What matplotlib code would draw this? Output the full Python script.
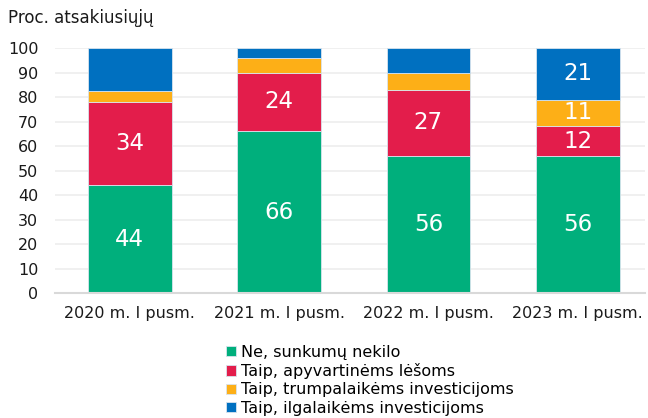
import matplotlib.pyplot as plt
import numpy as np

# --- duomenys ---
kategorijos = ['2020 m. I pusm.', '2021 m. I pusm.', '2022 m. I pusm.', '2023 m. I pusm.']
ne_sunkumu = [44, 66, 56, 56]
apyvartinems = [34, 24, 27, 12]
trumpalaikems = [4.5, 6, 7, 11]
ilgalaikems = [17.5, 4, 10, 21]

pavadinimai = ['Ne, sunkumų nekilo', 'Taip, apyvartinėms lėšoms',
               'Taip, trumpalaikėms investicijoms', 'Taip, ilgalaikėms investicijoms']
spalvos = ['#00AF7C', '#E31D4B', '#FDAF17', '#0070C0']
serijos = [ne_sunkumu, apyvartinems, trumpalaikems, ilgalaikems]
# kurios serijos rodo reikšmes visiems metams
rodyti_visur = [True, True, False, False]
zymes_4 = [False, False, False, True]  # paskutinis metas turi visas reikšmes

fig = plt.figure(figsize=(6.48, 4.18), dpi=100)
ax = fig.add_axes([55 / 648, 0.299, 590 / 648, 0.586])

x = np.arange(len(kategorijos))
apacia = np.zeros(len(kategorijos))
for i, vals in enumerate(serijos):
    vals = np.array(vals, dtype=float)
    bars = ax.bar(x, vals, 0.56, bottom=apacia, color=spalvos[i], label=pavadinimai[i],
                  edgecolor='#d8e4ee', linewidth=0.6, zorder=2)
    for j, b in enumerate(bars):
        if rodyti_visur[i] or zymes_4[j]:
            ax.text(b.get_x() + b.get_width() / 2, apacia[j] + vals[j] / 2,
                    f'{vals[j]:.0f}', ha='center', va='center', color='white', fontsize=16.5)
    apacia += vals

ax.set_xlim(-0.5, 3.45)
ax.set_ylim(0, 100)
ax.set_yticks(range(0, 101, 10))
ax.set_xticks(x)
ax.set_xticklabels(kategorijos)
ax.tick_params(axis='both', length=0, labelsize=11.5, colors='#1a1a1a')
ax.tick_params(axis='x', pad=9)
ax.tick_params(axis='y', pad=12)
ax.grid(axis='y', color='#eeeeee', linewidth=1.2, zorder=0)
for s in ['top', 'right', 'left']:
    ax.spines[s].set_visible(False)
ax.spines['bottom'].set_color('#d9d9d9')
ax.spines['bottom'].set_linewidth(1.5)

fig.text(8 / 648, 1 - 18 / 418, 'Proc. atsakiusiųjų', fontsize=12, va='center', color='#1a1a1a')

ax.legend(loc='upper left', bbox_to_anchor=(226 / 648, 1 - 345 / 418), bbox_transform=fig.transFigure,
          frameon=False, fontsize=11.5, handlelength=0.6, handleheight=0.6, handletextpad=0.35,
          labelspacing=0.2, borderaxespad=0, borderpad=0)

fig.savefig('out.png', dpi=100)
